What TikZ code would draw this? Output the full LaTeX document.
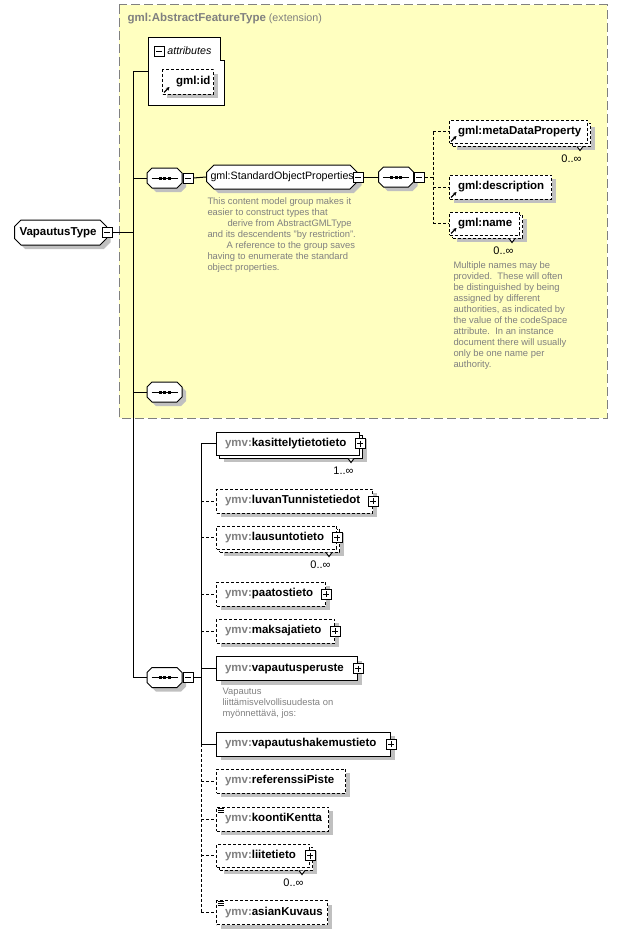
\documentclass[tikz,border=0pt]{standalone}
\usepackage{fontspec}
\setmainfont{Liberation Sans}
\usetikzlibrary{shapes.misc,arrows.meta,shadows,positioning}
\definecolor{extyellow}{RGB}{255,255,192}
\definecolor{extgray}{RGB}{128,128,128}
\definecolor{nsgray}{RGB}{128,128,128}
\definecolor{notegray}{RGB}{128,128,128}
\definecolor{shadowgray}{RGB}{192,192,192}
\newcommand{\elemfont}{\fontsize{11.5}{13}\selectfont\bfseries}
\newcommand{\plainfont}{\fontsize{10.7}{12}\selectfont}
\newcommand{\notefont}{\fontsize{9.4}{11}\selectfont}
\newcommand{\ymv}[1]{\textcolor{nsgray}{ymv:}#1}
% line with three dots inside a sequence box
\newcommand{\seqicon}[1]{%
    \draw ([xshift=5pt]#1.west) -- ([xshift=-5pt]#1.east);
    \foreach \d in {-4.5,0,4.5}
        \fill ([xshift=\d pt]#1.center) +(-1.5pt,-1.5pt) rectangle +(1.5pt,1.5pt);}

\begin{document}
\begin{tikzpicture}[x=1pt, y=-1pt, line width=1pt,
    boxshadow/.style={drop shadow={shadow xshift=4pt, shadow yshift=-4pt, fill=shadowgray, opacity=1}},
    elem/.style={rectangle, draw, fill=white, anchor=west, minimum height=24pt, text width=#1,
        inner xsep=0pt, inner ysep=0pt, align=left, font=\elemfont,
        execute at begin node={\hspace*{8.5pt}}},
    opt/.style={dash pattern=on 3pt off 2pt},
    refarrow/.style={path picture={\draw[line width=1.1pt, solid, -{Stealth[length=3.5pt, width=3.5pt]}]
        ([shift={(1.5pt,1.5pt)}]path picture bounding box.south west) -- ++(5.5pt,5.5pt);}},
    simpleicon/.style={path picture={\foreach \d in {1,3,5}
        \draw[line width=0.7pt, solid] ([shift={(1.5pt,-\d pt)}]path picture bounding box.north west) -- ++(6pt,0pt);}},
    minus/.style={rectangle, draw, fill=white, minimum size=10pt, inner sep=0pt, line width=0.8pt, solid,
        path picture={\draw ([xshift=2pt]path picture bounding box.west) -- ([xshift=-2pt]path picture bounding box.east);}},
    plus/.style={rectangle, draw, fill=white, minimum size=10pt, inner sep=0pt, line width=0.8pt, solid,
        path picture={\draw ([xshift=2pt]path picture bounding box.west) -- ([xshift=-2pt]path picture bounding box.east);
                      \draw ([yshift=-2pt]path picture bounding box.north) -- ([yshift=2pt]path picture bounding box.south);}},
    seqbox/.style={chamfered rectangle, chamfered rectangle xsep=2.5pt, chamfered rectangle ysep=2.5pt,
        draw, fill=white, boxshadow, inner xsep=15pt, inner ysep=7.5pt},
    grpbox/.style={chamfered rectangle, chamfered rectangle xsep=4pt, draw, fill=white, boxshadow,
        anchor=west, minimum height=24pt, inner sep=0pt, font=\plainfont},
    mult/.style={anchor=east, inner sep=0pt, font=\fontsize{11}{12}\selectfont},
    note/.style={anchor=north west, inner sep=0pt, align=left, text=notegray, font=\notefont}
]
\useasboundingbox (0,0) rectangle (618,934);

% extension frame
\draw[extgray, dash pattern=on 9pt off 4pt, fill=extyellow] (119,5) rectangle (607,418);
\node[anchor=west, inner sep=0pt, text=extgray, font=\plainfont] (exttitle) at (127,19)
    {{\elemfont gml:AbstractFeatureType} (extension)};

% attributes
\draw[fill=white] (148,38) -- (220,38) -- (220,61) -- (224,61) -- (224,105) -- (148,105) -- cycle;
\coordinate (attrsin) at (148,72);
\node[minus] (attrM) at (159,51) {};
\node[right=2.5pt of attrM, inner sep=0pt, font=\plainfont\itshape] (attrlabel) {attributes};
\node[elem=51pt, opt, refarrow, boxshadow, execute at begin node={\hspace*{5pt}}] (gmlid) at (162,82) {gml:id};

% root type
\node[chamfered rectangle, chamfered rectangle xsep=3pt, draw, fill=white, boxshadow, anchor=west,
      text width=86pt, minimum height=25pt, inner sep=0pt, align=left, font=\elemfont] (vtype) at (14,232.5)
    {\hspace*{2pt}VapautusType};
\node[minus] (vtM) at (vtype.east) {};
\coordinate (trunk) at (133,232.5);

% gml sequences
\node[seqbox] (seqA) at (164.5,178) {};
\seqicon{seqA}
\node[minus, anchor=west] (seqAM) at (seqA.east) {};
\node[grpbox, text width=143pt, align=left] (sop) at (206,177) {gml:StandardObjectProperties};
\node[minus] (sopM) at (sop.east) {};
\node[seqbox] (seqB) at (396,177) {};
\seqicon{seqB}
\node[minus, anchor=west] (seqBM) at (seqB.east) {};
\coordinate (busG) at (433,177);

\node[elem=138pt, minimum height=23pt, opt, boxshadow] (metaB) at (452,134.5) {};
\node[elem=138pt, minimum height=23pt, opt, refarrow] (meta) at (449,131.5) {gml:metaDataProperty};
\draw[fill=white] ([xshift=-14pt]metaB.south east) -- ++(3pt,-4pt) -- ++(3pt,4pt);
\node[mult] (metaN) at ([shift={(-9pt,-12pt)}]metaB.south east) {0..∞};
\node[elem=102pt, opt, refarrow, boxshadow] (desc) at (449,187) {gml:description};
\node[elem=70pt, minimum height=23pt, opt, boxshadow] (nameB) at (452,226.5) {};
\node[elem=70pt, minimum height=23pt, opt, refarrow] (name) at (449,223.5) {gml:name};
\draw[fill=white] ([xshift=-14pt]nameB.south east) -- ++(3pt,-4pt) -- ++(3pt,4pt);
\node[mult] (nameN) at ([shift={(-9pt,-12pt)}]nameB.south east) {0..∞};

\node[note] (sopnote) at (207,197) {This content model group makes it\\
    easier to construct types that\\
    \hspace*{20pt}derive from AbstractGMLType\\
    and its descendents "by restriction".\\
    \hspace*{19pt}A reference to the group saves\\
    having to enumerate the standard\\
    object properties.};
\node[note] (namenote) at (453,261) {Multiple names may be\\
    provided.\ \ These will often\\
    be distinguished by being\\
    assigned by different\\
    authorities, as indicated by\\
    the value of the codeSpace\\
    attribute.\ \ In an instance\\
    document there will usually\\
    only be one name per\\
    authority.};

\node[seqbox] (seqC) at (164.5,392) {};
\seqicon{seqC}

% ymv sequence
\node[seqbox] (seqD) at (164.5,677.5) {};
\seqicon{seqD}
\node[minus, anchor=west] (seqDM) at (seqD.east) {};
\coordinate (busY) at (201,677.5);

\node[elem=143pt, minimum height=23pt, boxshadow] (kasB) at (219,446.5) {};
\node[elem=143pt, minimum height=23pt] (kas) at (216,443.5) {\ymv{kasittelytietotieto}};
\node[plus] (kasP) at (kas.east) {};
\draw[fill=white] ([xshift=-15pt]kasB.south east) -- ++(3pt,-4pt) -- ++(3pt,4pt);
\node[mult] (kasN) at ([shift={(-9pt,-12pt)}]kasB.south east) {1..∞};

\node[elem=156pt, opt, boxshadow] (luvan) at (216,501) {\ymv{luvanTunnistetiedot}};
\node[plus] (luvanP) at (luvan.east) {};

\node[elem=120pt, minimum height=23pt, opt, boxshadow] (lausuntoB) at (219,540.5) {};
\node[elem=120pt, minimum height=23pt, opt] (lausunto) at (216,537.5) {\ymv{lausuntotieto}};
\node[plus] (lausuntoP) at (lausunto.east) {};
\draw[fill=white] ([xshift=-14pt]lausuntoB.south east) -- ++(3pt,-4pt) -- ++(3pt,4pt);
\node[mult] (lausuntoN) at ([shift={(-9pt,-12pt)}]lausuntoB.south east) {0..∞};

\node[elem=109pt, opt, boxshadow] (paatos) at (216,594) {\ymv{paatostieto}};
\node[plus] (paatosP) at (paatos.east) {};
\node[elem=118pt, opt, boxshadow] (maksaja) at (216,631) {\ymv{maksajatieto}};
\node[plus] (maksajaP) at (maksaja.east) {};
\node[elem=141pt, boxshadow] (vperuste) at (216,668.5) {\ymv{vapautusperuste}};
\node[plus] (vperusteP) at (vperuste.east) {};
\node[note] (vperustenote) at (222,688) {Vapautus\\
    liittämisvelvollisuudesta on\\
    myönnettävä, jos:};
\node[elem=174pt, boxshadow] (vhakemus) at (216,744) {\ymv{vapautushakemustieto}};
\node[plus] (vhakemusP) at (vhakemus.east) {};
\node[elem=129pt, opt, boxshadow] (referenssi) at (216,781) {\ymv{referenssiPiste}};
\node[elem=112pt, opt, simpleicon, boxshadow] (koonti) at (216,819) {\ymv{koontiKentta}};

\node[elem=93pt, minimum height=23pt, opt, boxshadow] (liiteB) at (219,858.5) {};
\node[elem=93pt, minimum height=23pt, opt] (liite) at (216,855.5) {\ymv{liitetieto}};
\node[plus] (liiteP) at (liite.east) {};
\draw[fill=white] ([xshift=-14pt]liiteB.south east) -- ++(3pt,-4pt) -- ++(3pt,4pt);
\node[mult] (liiteN) at ([shift={(-9pt,-12pt)}]liiteB.south east) {0..∞};

\node[elem=111pt, opt, simpleicon, boxshadow] (asian) at (216,912.5) {\ymv{asianKuvaus}};

% connectors of VapautusType
\draw (vtM.east) -- (trunk);
\draw (attrsin -| trunk) -- (seqD.west -| trunk);
\foreach \n in {attrsin, seqA.west, seqC.west, seqD.west}
    \draw (\n -| trunk) -- (\n);

% connectors of gml sequence
\draw (seqAM.east) -- (sop.west);
\draw (sopM.east) -- (seqB.west);
\draw[opt] (seqBM.east) -- (busG);
\draw[opt] (meta.west -| busG) -- (name.west -| busG);
\foreach \n in {meta, desc, name}
    \draw[opt] (\n.west -| busG) -- (\n.west);

% connectors of ymv sequence
\draw (seqDM.east) -- (busY);
\draw (kas.west -| busY) -- (vhakemus.west -| busY);
\draw[opt] (vhakemus.west -| busY) -- (asian.west -| busY);
\foreach \n in {kas, vperuste, vhakemus}
    \draw (\n.west -| busY) -- (\n.west);
\foreach \n in {luvan, lausunto, paatos, maksaja, referenssi, koonti, liite, asian}
    \draw[opt] (\n.west -| busY) -- (\n.west);

\end{tikzpicture}
\end{document}
